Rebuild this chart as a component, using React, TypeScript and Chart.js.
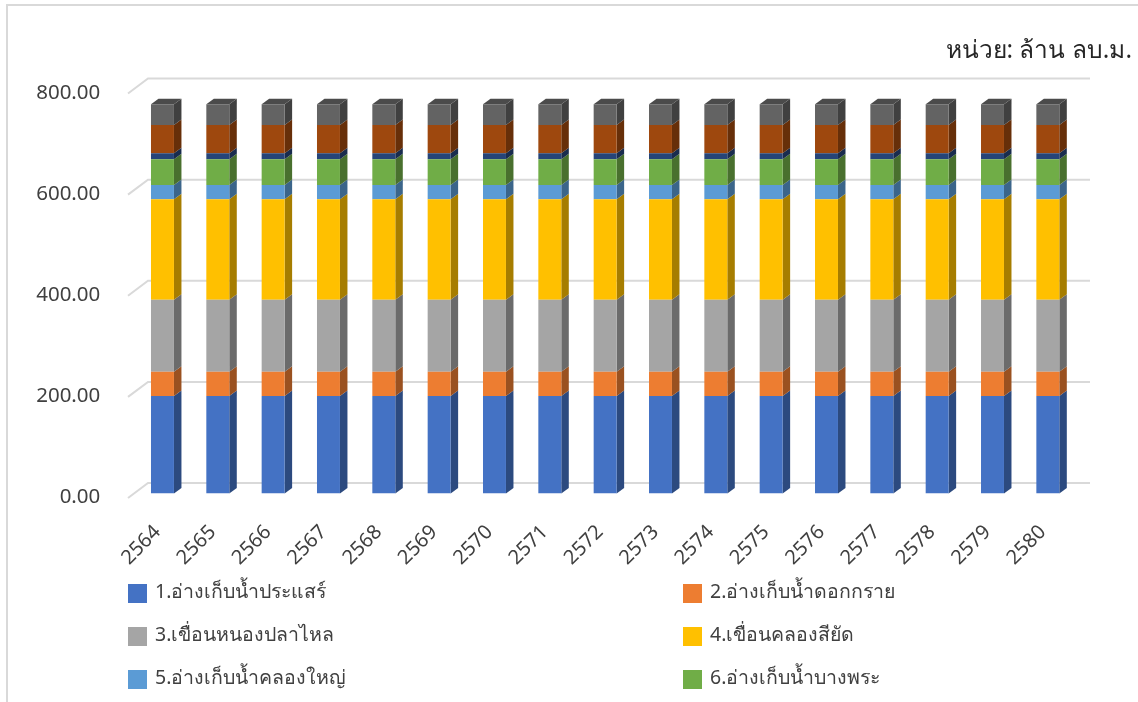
import React, { useEffect, useRef } from "react";
import { Chart, registerables } from "chart.js";

Chart.register(...registerables);

const years = ["2564","2565","2566","2567","2568","2569","2570","2571","2572","2573","2574","2575","2576","2577","2578","2579","2580"];
const yTicks = [0, 200, 400, 600, 800];
const unitLabel = "หน่วย: ล้าน ลบ.ม.";
const seriesNames = ["1.อ่างเก็บน้ำประแสร์","2.อ่างเก็บน้ำดอกกราย","3.เขื่อนหนองปลาไหล","4.เขื่อนคลองสียัด","5.อ่างเก็บน้ำคลองใหญ่","6.อ่างเก็บน้ำบางพระ","7.","8.","9."];
const s1 = [193,193,193,193,193,193,193,193,193,193,193,193,193,193,193,193,193];
const s2 = [48,48,48,48,48,48,48,48,48,48,48,48,48,48,48,48,48];
const s3 = [142,142,142,142,142,142,142,142,142,142,142,142,142,142,142,142,142];
const s4 = [199,199,199,199,199,199,199,199,199,199,199,199,199,199,199,199,199];
const s5 = [28,28,28,28,28,28,28,28,28,28,28,28,28,28,28,28,28];
const s6 = [51,51,51,51,51,51,51,51,51,51,51,51,51,51,51,51,51];
const s7 = [12,12,12,12,12,12,12,12,12,12,12,12,12,12,12,12,12];
const s8 = [56,56,56,56,56,56,56,56,56,56,56,56,56,56,56,56,56];
const s9 = [41,41,41,41,41,41,41,41,41,41,41,41,41,41,41,41,41];
const seriesValues = [s1, s2, s3, s4, s5, s6, s7, s8, s9];
const colors = ["#4472C4","#ED7D31","#A5A5A5","#FFC000","#5B9BD5","#70AD47","#264478","#9E480E","#636363"];
const legendCount = 6;

const FONT = '"Noto Sans", "DejaVu Sans", sans-serif';
const TEXT = "#404040";
const GRID = "#D9D9D9";

function shade(hex: string, f: number) {
  const n = parseInt(hex.slice(1), 16);
  const c = (v: number) => Math.round(v * f);
  return `rgb(${c((n >> 16) & 255)},${c((n >> 8) & 255)},${c(n & 255)})`;
}

const depthPlugin = {
  id: "depth",
  beforeDatasetsDraw(chart: any) {
    const { ctx } = chart;
    const y = chart.scales.y;
    const dx = 7.5, dy = 5.5;
    ctx.save();
    // chart frame
    ctx.strokeStyle = GRID;
    ctx.lineWidth = 2;
    ctx.beginPath();
    ctx.moveTo(7, 702); ctx.lineTo(7, 5); ctx.lineTo(1138, 5);
    ctx.stroke();
    // gridlines on floor/back wall
    for (const v of yTicks) {
      const p = y.getPixelForValue(v);
      ctx.beginPath();
      ctx.moveTo(128, p + 4.5);
      ctx.lineTo(148, p - 10.5);
      ctx.lineTo(1090, p - 10.5);
      ctx.stroke();
    }
    // side and top faces of every bar
    chart.data.datasets.forEach((ds: any, i: number) => {
      const meta = chart.getDatasetMeta(i);
      meta.data.forEach((bar: any) => {
        const r = bar.x + bar.width / 2;
        const l = bar.x - bar.width / 2;
        ctx.fillStyle = shade(ds.backgroundColor, 0.65);
        ctx.beginPath();
        ctx.moveTo(r, bar.y); ctx.lineTo(r + dx, bar.y - dy);
        ctx.lineTo(r + dx, bar.base - dy); ctx.lineTo(r, bar.base);
        ctx.closePath(); ctx.fill();
        if (i === chart.data.datasets.length - 1) {
          ctx.fillStyle = shade(ds.backgroundColor, 0.76);
          ctx.beginPath();
          ctx.moveTo(l, bar.y); ctx.lineTo(l + dx, bar.y - dy);
          ctx.lineTo(r + dx, bar.y - dy); ctx.lineTo(r, bar.y);
          ctx.closePath(); ctx.fill();
        }
      });
    });
    ctx.restore();
  },
  afterDraw(chart: any) {
    const { ctx } = chart;
    ctx.save();
    ctx.textBaseline = "middle";
    ctx.textAlign = "right";
    ctx.font = `24.5px ${FONT}`;
    ctx.fillStyle = "#262626";
    ctx.fillText(unitLabel, 1132, 51);
    ctx.textAlign = "left";
    ctx.font = `19.5px ${FONT}`;
    chart.data.datasets.slice(0, legendCount).forEach((ds: any, i: number) => {
      const col = i % 2, row = Math.floor(i / 2);
      const x = col === 0 ? 128 : 683;
      const top = 584 + row * 43;
      ctx.fillStyle = ds.backgroundColor;
      ctx.fillRect(x, top, 19, 19);
      ctx.fillStyle = TEXT;
      ctx.fillText(ds.label, x + 27, top + 8);
    });
    ctx.restore();
  },
};

export default function App() {
  const ref = useRef<HTMLCanvasElement>(null);
  useEffect(() => {
    const chart = new Chart(ref.current!, {
      type: "bar",
      data: {
        labels: years,
        datasets: seriesValues.map((data, i) => ({
          label: seriesNames[i],
          data,
          backgroundColor: colors[i],
          borderWidth: 0,
          categoryPercentage: 1,
          barPercentage: 0.415,
        })),
      },
      plugins: [depthPlugin],
      options: {
        responsive: false,
        animation: false,
        layout: { padding: { top: 89, left: 0, right: 62.5, bottom: 0 } },
        plugins: { legend: { display: false }, tooltip: { enabled: false }, title: { display: false } },
        scales: {
          x: {
            stacked: true,
            grid: { display: false },
            border: { display: false },
            ticks: {
              autoSkip: false,
              minRotation: 45,
              maxRotation: 45,
              padding: 19,
              labelOffset: -5,
              color: TEXT,
              font: { family: FONT, size: 20 },
            },
            afterFit(s: any) {
              s.height = 208.5;
              s.paddingLeft = 0; s.paddingRight = 0;
            },
          },
          y: {
            stacked: true,
            min: 0,
            max: 800,
            grid: { display: false },
            border: { display: false },
            ticks: {
              stepSize: 200,
              padding: 26.5,
              labelOffset: 4,
              color: TEXT,
              font: { family: FONT, size: 20.5 },
              callback: (v: any) => Number(v).toFixed(2),
            },
            afterFit(s: any) {
              s.width = 134.8;
              s.paddingTop = 0; s.paddingBottom = 0;
            },
          },
        },
      },
    } as any);
    return () => chart.destroy();
  }, []);
  return (
    <div style={{ position: "absolute", left: 0, top: 0, width: 1138, height: 702, background: "#fff" }}>
      <canvas ref={ref} width={1138} height={702} style={{ display: "block" }} />
    </div>
  );
}
